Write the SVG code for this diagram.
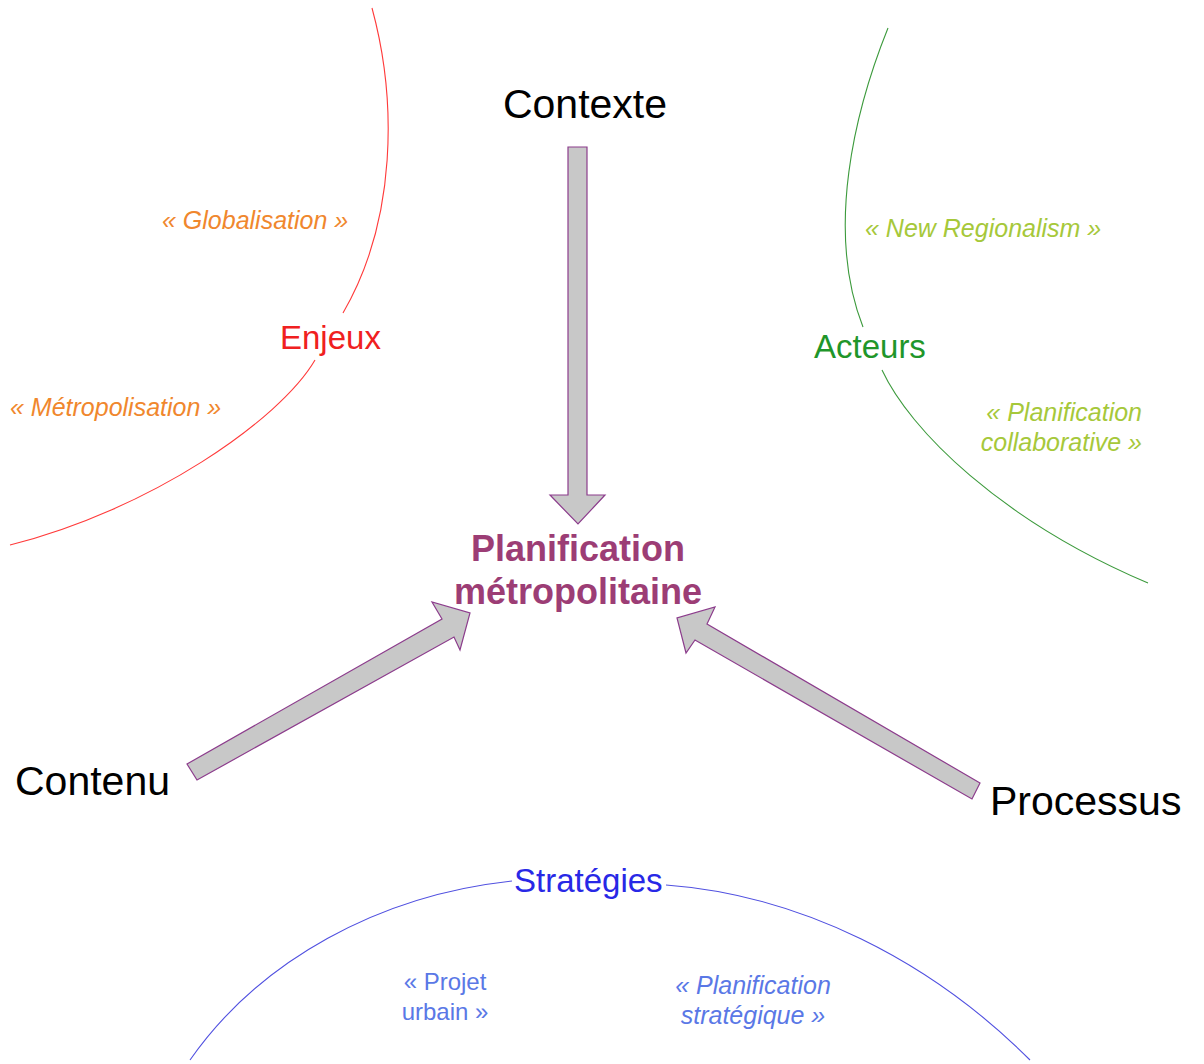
<svg xmlns="http://www.w3.org/2000/svg" width="1204" height="1064" viewBox="0 0 1204 1064">
<style>
text{font-family:"Liberation Sans",Arial,sans-serif}
.big{font-size:41px;fill:#000}
.center{font-size:36px;font-weight:bold;fill:#9c3d75;text-anchor:middle}
.cat{font-size:33px}
.q{font-size:25px;font-style:italic}
.arrow{fill:#c8c8c8;stroke:#8c3c8c;stroke-width:1.2;stroke-linejoin:miter}
.curve{fill:none;stroke-width:1.1}
</style>
<rect width="1204" height="1064" fill="#fff"/>
<g id="curves">
<g id="curve-enjeux" class="curve" stroke="#ff3a3a">
<path d="M372,8 C397,100 397,220 343,313"/>
<path d="M315,360 C280,420 150,510 10,545"/>
</g>
<g id="curve-acteurs" class="curve" stroke="#3c9a3c">
<path d="M888,28 C855,110 825,230 863,327"/>
<path d="M882,370 C910,430 1000,520 1148,583"/>
</g>
<g id="curve-strategies" class="curve" stroke="#5050e0">
<path d="M190,1060 C260,960 380,895 512,881"/>
<path d="M666,885 C800,895 930,960 1030,1060"/>
</g>
</g>
<g id="connectors">
<polygon id="arrow-contexte" class="arrow" points="568,147 587,147 587,495 605,495 578,524 550,495 568,495"/>
<polygon id="arrow-contenu" class="arrow" points="187,764 442,619 432,602 470,613 460,650 454,637 197,780"/>
<polygon id="arrow-processus" class="arrow" points="980,783 707,624 715,607 677,618 686,653 695,640 972,799"/>
</g>
<g id="node-contexte"><text class="big" x="585" y="118" text-anchor="middle">Contexte</text></g>
<g id="node-contenu"><text class="big" x="15" y="795">Contenu</text></g>
<g id="node-processus"><text class="big" x="990" y="815">Processus</text></g>
<g id="node-planification">
<text class="center" x="578" y="561">Planification</text>
<text class="center" x="578" y="604">métropolitaine</text>
</g>
<g id="node-enjeux">
<text class="cat" x="280" y="349" fill="#f02020">Enjeux</text>
<text class="q" x="162" y="229" fill="#f0872d">« Globalisation »</text>
<text class="q" x="10" y="416" fill="#f0872d">« Métropolisation »</text>
</g>
<g id="node-acteurs">
<text class="cat" x="814" y="358" fill="#1f962a">Acteurs</text>
<text class="q" x="865" y="237" fill="#a6c83a">« New Regionalism »</text>
<text class="q" x="1142" y="421" fill="#a6c83a" text-anchor="end">« Planification</text>
<text class="q" x="1142" y="451" fill="#a6c83a" text-anchor="end">collaborative »</text>
</g>
<g id="node-strategies">
<text class="cat" x="514" y="892" fill="#2828e6">Stratégies</text>
<text x="445" y="990" font-size="24" fill="#5a78e6" text-anchor="middle">« Projet</text>
<text x="445" y="1020" font-size="24" fill="#5a78e6" text-anchor="middle">urbain »</text>
<text class="q" x="753" y="994" fill="#5a78e6" text-anchor="middle">« Planification</text>
<text class="q" x="753" y="1024" fill="#5a78e6" text-anchor="middle">stratégique »</text>
</g>
</svg>
